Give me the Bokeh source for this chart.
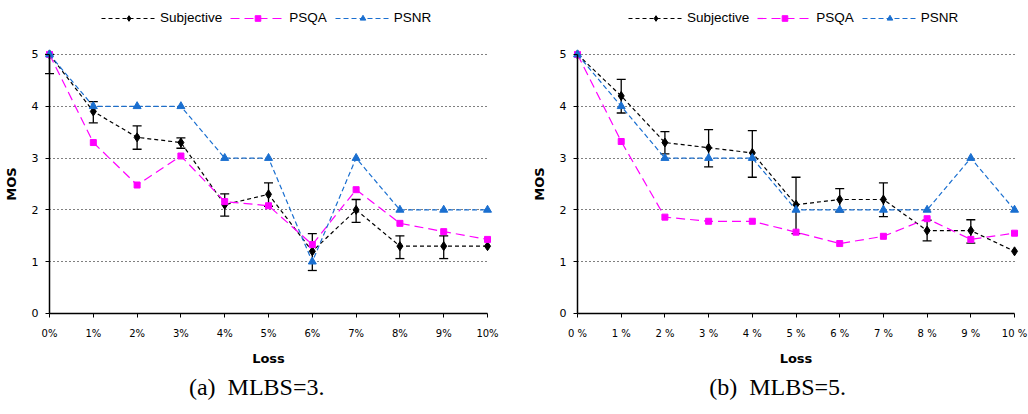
from bokeh.plotting import figure
from bokeh.layouts import row
from bokeh.models import (ColumnDataSource, Whisker, TeeHead, Legend, LegendItem,
                          FixedTicker, Label, Range1d)
from bokeh.embed import file_html
from bokeh.resources import INLINE

loss = list(range(11))
ticks_a = ["0%", "1%", "2%", "3%", "4%", "5%", "6%", "7%", "8%", "9%", "10%"]
ticks_b = ["0 %", "1 %", "2 %", "3 %", "4 %", "5 %", "6 %", "7 %", "8 %", "9 %", "10 %"]
mos_ticks = [0, 1, 2, 3, 4, 5]
grid_ticks = [1, 2, 3, 4, 5]

# (a) MLBS=3
subj_a = [5.0, 3.9, 3.4, 3.3, 2.1, 2.3, 1.2, 2.0, 1.3, 1.3, 1.3]
subj_a_lower = [4.63, 3.68, 3.17, 3.19, 1.88, 2.07, 0.83, 1.76, 1.06, 1.06, None]
subj_a_upper = [5.0, 4.09, 3.62, 3.39, 2.31, 2.52, 1.54, 2.20, 1.50, 1.50, None]
psqa_a = [5.0, 3.3, 2.48, 3.04, 2.16, 2.08, 1.33, 2.39, 1.74, 1.58, 1.43]
psnr_a = [5, 4, 4, 4, 3, 3, 1, 3, 2, 2, 2]

# (b) MLBS=5
subj_b = [5.0, 4.2, 3.3, 3.2, 3.1, 2.1, 2.2, 2.2, 1.6, 1.6, 1.2]
subj_b_lower = [None, 3.87, 3.08, 2.83, 2.63, 1.54, 1.96, 1.87, 1.40, 1.36, None]
subj_b_upper = [None, 4.52, 3.51, 3.55, 3.53, 2.63, 2.41, 2.52, 1.80, 1.81, None]
psqa_b = [5.0, 3.32, 1.86, 1.78, 1.78, 1.57, 1.35, 1.49, 1.83, 1.43, 1.55]
psnr_b = [5, 4, 3, 3, 3, 2, 2, 2, 2, 3, 2]

BLUE = "#1A6FD0"
MAGENTA = "#FF00FF"


def make_panel(tick_labels, subj, lower, upper, psqa, psnr, caption,
               x_start, x_end, legend_x, caption_x):
    p = figure(width=514, height=414, output_backend="svg", toolbar_location=None,
               x_range=Range1d(x_start, x_end), y_range=Range1d(-1.95, 6.042),
               min_border_left=0, min_border_right=0,
               min_border_top=0, min_border_bottom=0)
    p.outline_line_color = None
    p.background_fill_color = "white"
    p.border_fill_color = "white"

    # x axis
    p.xaxis.fixed_location = 0
    p.xaxis.ticker = FixedTicker(ticks=loss)
    p.xaxis.major_label_overrides = {i: t for i, t in zip(loss, tick_labels)}
    p.xaxis.bounds = (0, 10)
    p.xaxis.minor_tick_line_color = None
    p.xaxis.major_tick_out = 4
    p.xaxis.major_tick_in = 0
    p.xaxis.axis_line_color = "black"
    p.xaxis.axis_line_width = 1.5
    p.xaxis.major_tick_line_color = "black"
    p.xaxis.major_label_text_font = "DejaVu Sans"
    p.xaxis.major_label_text_font_size = "10px"
    p.xaxis.major_label_text_color = "black"
    p.xaxis.major_label_standoff = 11
    p.xaxis.axis_label = "Loss"
    p.xaxis.axis_label_text_font = "DejaVu Sans"
    p.xaxis.axis_label_text_font_style = "bold"
    p.xaxis.axis_label_text_font_size = "13px"
    p.xaxis.axis_label_text_color = "black"
    p.xaxis.axis_label_standoff = 8

    # y axis
    p.yaxis.fixed_location = 0
    p.yaxis.bounds = (0, 5)
    p.yaxis.ticker = FixedTicker(ticks=mos_ticks)
    p.yaxis.minor_tick_line_color = None
    p.yaxis.major_tick_out = 4
    p.yaxis.major_tick_in = 0
    p.yaxis.axis_line_color = "black"
    p.yaxis.axis_line_width = 1.5
    p.yaxis.major_tick_line_color = "black"
    p.yaxis.major_label_text_font = "DejaVu Sans"
    p.yaxis.major_label_text_font_size = "11px"
    p.yaxis.major_label_text_color = "black"
    p.yaxis.major_label_standoff = 7
    p.yaxis.axis_label = "MOS"
    p.yaxis.axis_label_text_font = "DejaVu Sans"
    p.yaxis.axis_label_text_font_style = "bold"
    p.yaxis.axis_label_text_font_size = "13px"
    p.yaxis.axis_label_text_color = "black"
    p.yaxis.axis_label_standoff = 10

    p.xgrid.visible = False
    p.ygrid.ticker = FixedTicker(ticks=grid_ticks)
    p.ygrid.grid_line_color = "black"
    p.ygrid.grid_line_dash = "1 3"
    p.ygrid.grid_line_width = 1
    try:
        p.ygrid[0].cross_bounds = (0, 10)
    except Exception:
        pass

    # series
    l1 = p.line(loss, subj, line_color="black", line_dash="4 3", line_width=1.2)
    s1 = p.scatter(loss, subj, marker="diamond", size=9, fill_color="black", line_color="black")
    l2 = p.line(loss, psqa, line_color=MAGENTA, line_dash="9 5", line_width=1.2)
    s2 = p.scatter(loss, psqa, marker="square", size=6, fill_color=MAGENTA, line_color=MAGENTA)
    l3 = p.line(loss, psnr, line_color=BLUE, line_dash="5 3", line_width=1.2)
    s3 = p.scatter(loss, psnr, marker="triangle", size=8, fill_color=BLUE, line_color=BLUE)

    # error bars
    idx = [i for i in loss if lower[i] is not None]
    src = ColumnDataSource(dict(x=[loss[i] for i in idx],
                                lower=[lower[i] for i in idx],
                                upper=[upper[i] for i in idx]))
    w = Whisker(source=src, base="x", lower="lower", upper="upper",
                line_color="black", line_width=1.3,
                upper_head=TeeHead(size=9, line_color="black", line_width=1.3),
                lower_head=TeeHead(size=9, line_color="black", line_width=1.3))
    p.add_layout(w)

    legend = Legend(items=[LegendItem(label="Subjective", renderers=[l1, s1]),
                           LegendItem(label="PSQA", renderers=[l2, s2]),
                           LegendItem(label="PSNR", renderers=[l3, s3])],
                    orientation="horizontal", location=(legend_x, 389),
                    glyph_width=55, glyph_height=14, label_standoff=4, spacing=8,
                    padding=2, margin=0, border_line_color=None,
                    background_fill_alpha=0,
                    label_text_font="Liberation Sans", label_text_font_size="13.5px",
                    label_text_color="black")
    p.add_layout(legend)

    cap = Label(x=caption_x, y=-1.42, text=caption, text_align="center",
                text_baseline="middle", text_font="Liberation Serif",
                text_font_size="24px", text_color="black")
    p.add_layout(cap)
    return p


pa = make_panel(ticks_a, subj_a, subj_a_lower, subj_a_upper, psqa_a, psnr_a,
                "(a)\u00a0\u00a0MLBS=3.", -1.119, 10.616, 101, 4.73)
pb = make_panel(ticks_b, subj_b, subj_b_lower, subj_b_upper, psqa_b, psnr_b,
                "(b)\u00a0\u00a0MLBS=5.", -1.442, 10.32, 114, 4.58)

layout = row(pa, pb)
open("out.html", "w").write(file_html(layout, INLINE))
